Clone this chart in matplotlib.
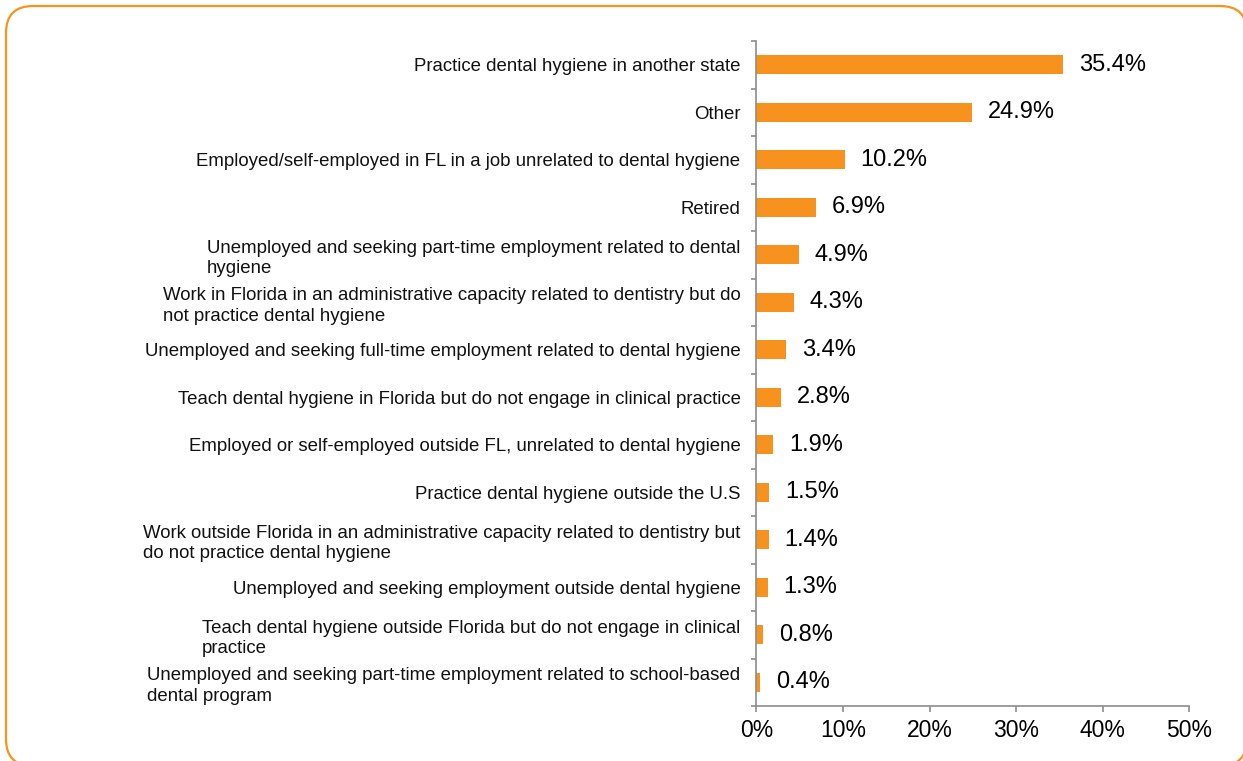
import matplotlib
matplotlib.use("Agg")
import matplotlib.pyplot as plt
from matplotlib.patches import FancyBboxPatch, PathPatch
from matplotlib.path import Path
from matplotlib.ticker import FixedLocator, FuncFormatter

categories = [
    "Practice dental hygiene in another state",
    "Other",
    "Employed/self-employed in FL in a job unrelated to dental hygiene",
    "Retired",
    "Unemployed and seeking part-time employment related to dental\nhygiene",
    "Work in Florida in an administrative capacity related to dentistry but do\nnot practice dental hygiene",
    "Unemployed and seeking full-time employment related to dental hygiene",
    "Teach dental hygiene in Florida but do not engage in clinical practice",
    "Employed or self-employed outside FL, unrelated to dental hygiene",
    "Practice dental hygiene outside the U.S",
    "Work outside Florida in an administrative capacity related to dentistry but\ndo not practice dental hygiene",
    "Unemployed and seeking employment outside dental hygiene",
    "Teach dental hygiene outside Florida but do not engage in clinical\npractice",
    "Unemployed and seeking part-time employment related to school-based\ndental program",
]
percentages = [35.4, 24.9, 10.2, 6.9, 4.9, 4.3, 3.4, 2.8, 1.9, 1.5, 1.4, 1.3, 0.8, 0.4]
x_ticks = [0, 10, 20, 30, 40, 50]

ORANGE = "#F7921E"
AXIS_GREY = "#8C8C8C"

plt.rcParams["font.family"] = ["Liberation Sans", "DejaVu Sans"]

W, H, DPI = 1243, 761, 100
fig = plt.figure(figsize=(W / DPI, H / DPI), dpi=DPI)
fig.patch.set_facecolor("white")

# full-figure layer in pixel units for the rounded outer frame
bg = fig.add_axes([0, 0, 1, 1], zorder=-1)
bg.set_xlim(0, W)
bg.set_ylim(H, 0)
bg.axis("off")
box = FancyBboxPatch((6, 6), 1247 - 6, 766 - 6,
                     boxstyle="round,pad=0,rounding_size=27")
# flatten the rounded corners into a polyline so it renders cleanly past the edges
outline = box.get_path().to_polygons(closed_only=False)[0]
frame = PathPatch(Path(outline), facecolor="none", edgecolor="#F7941D",
                  linewidth=1.6, clip_on=False)
bg.add_patch(frame)

# plot area in pixel units
left, right, top, bottom = 756.5, 1189, 41, 706
ax = fig.add_axes([left / W, (H - bottom) / H, (right - left) / W, (bottom - top) / H])
ax.patch.set_alpha(0)

pos = list(range(len(categories)))
ax.barh(pos, percentages, height=0.4, color=ORANGE, edgecolor="none", zorder=2)

ax.set_xlim(0, 50)
ax.set_ylim(len(categories) - 0.5, -0.5)

for y, v in zip(pos, percentages):
    ax.annotate(f"{v:.1f}%", xy=(v, y), xytext=(16, 0), textcoords="offset pixels",
                ha="left", va="center", fontsize=17, color="black")

# axes styling
for side in ("top", "right"):
    ax.spines[side].set_visible(False)
for side in ("left", "bottom"):
    ax.spines[side].set_color(AXIS_GREY)
    ax.spines[side].set_linewidth(1.2)

ax.xaxis.set_major_locator(FixedLocator(x_ticks))
ax.xaxis.set_major_formatter(FuncFormatter(lambda v, p: f"{v:.0f}%"))
ax.tick_params(axis="x", which="major", direction="out", length=4.3, width=1.2,
               color=AXIS_GREY, labelsize=16.5, pad=5, labelcolor="black")

ax.set_yticks(pos)
ax.set_yticklabels(categories)
ax.yaxis.set_minor_locator(FixedLocator([p - 0.5 for p in pos] + [len(pos) - 0.5]))
ax.tick_params(axis="y", which="major", length=0, pad=11.5, labelsize=13.4,
               labelcolor="#111111")
ax.tick_params(axis="y", which="minor", direction="out", length=3.6, width=1.2,
               color=AXIS_GREY)
for lbl in ax.get_yticklabels():
    lbl.set_multialignment("left")
    lbl.set_linespacing(1.25)

fig.savefig("out.png", dpi=DPI, facecolor="white")
